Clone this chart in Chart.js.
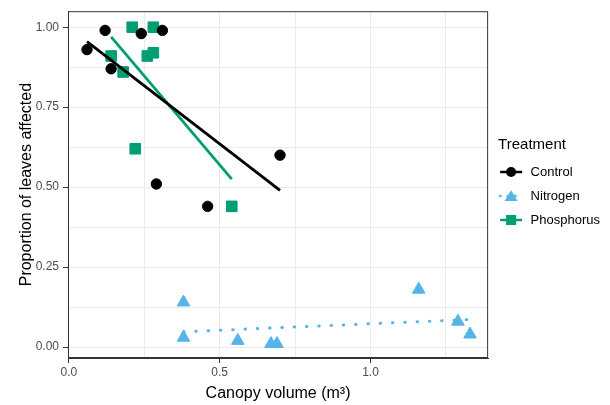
<!DOCTYPE html>
<html>
<head>
<meta charset="utf-8">
<script src="https://cdn.jsdelivr.net/npm/chart.js@4.4.0/dist/chart.umd.min.js"></script>
<style>
  body { margin: 0; background: #fff; }
</style>
</head>
<body>
<canvas id="plot" width="610" height="405"></canvas>
<script>
// observed points, per treatment
var controlX = [0.06, 0.12, 0.14, 0.24, 0.29, 0.31, 0.46, 0.70];
var controlY = [0.93, 0.99, 0.87, 0.98, 0.51, 0.99, 0.44, 0.60];
var nitrogenX = [0.38, 0.38, 0.56, 0.67, 0.69, 1.16, 1.29, 1.33];
var nitrogenY = [0.14, 0.03, 0.02, 0.01, 0.01, 0.18, 0.08, 0.04];
var phosphorusX = [0.14, 0.18, 0.21, 0.22, 0.26, 0.28, 0.28, 0.54];
var phosphorusY = [0.91, 0.86, 1.00, 0.62, 0.91, 1.00, 0.92, 0.44];

// fitted lines (end points)
var controlFitX = [0.06, 0.70];
var controlFitY = [0.955, 0.49];
var nitrogenFitX = [0.38, 1.32];
var nitrogenFitY = [0.048, 0.086];
var phosphorusFitX = [0.14, 0.54];
var phosphorusFitY = [0.97, 0.525];

var xTicks = [0, 0.25, 0.5, 0.75, 1.0, 1.25];
var yTicks = [0, 0.125, 0.25, 0.375, 0.5, 0.625, 0.75, 0.875, 1.0];

var treatments = ["Control", "Nitrogen", "Phosphorus"];
var colours = ["#000000", "#56B4E9", "#009E73"];

Chart.defaults.font.family = "Liberation Sans";
Chart.defaults.font.size = 13;
Chart.defaults.color = "#000";

function pairs(xs, ys) {
  return xs.map(function (x, i) { return {x: x, y: ys[i]}; });
}

function isMajor(v, step) {
  return Math.abs(v / step - Math.round(v / step)) < 1e-6;
}

// legend keys: line with the marker on top
function legendKey(colour, shape, dotted) {
  var c = document.createElement("canvas");
  c.width = 26; c.height = 16;
  var g = c.getContext("2d");
  g.strokeStyle = colour;
  g.fillStyle = colour;
  g.lineWidth = 2.5;
  if (dotted) { g.setLineDash([0.5, 7]); g.lineCap = "round"; }
  g.beginPath(); g.moveTo(2, 8); g.lineTo(24, 8); g.stroke();
  g.setLineDash([]);
  g.beginPath();
  if (shape == "circle") g.arc(13, 8, 5, 0, Math.PI * 2);
  if (shape == "rect") g.rect(8, 3, 10, 10);
  if (shape == "triangle") { g.moveTo(13, 2); g.lineTo(19.5, 13); g.lineTo(6.5, 13); g.closePath(); }
  g.fill();
  return c;
}
var keys = [
  legendKey(colours[0], "circle", false),
  legendKey(colours[1], "triangle", true),
  legendKey(colours[2], "rect", false)
];

var panelBox = {
  id: "panelBox",
  afterDraw: function (chart) {
    var a = chart.chartArea, g = chart.ctx;
    g.save();
    g.strokeStyle = "#333333";
    g.lineWidth = 1;
    g.strokeRect(a.left + 0.5, a.top + 0.5, a.right - a.left - 1, a.bottom - a.top - 1);
    g.restore();
  }
};

var ctx = document.getElementById("plot");

var plot = new Chart(ctx, {
  type: "scatter",
  data: {
    datasets: [
      {label: "Control", data: pairs(controlX, controlY), backgroundColor: colours[0], borderColor: colours[0],
       pointStyle: "circle", pointRadius: 5.2, order: 2},
      {label: "Nitrogen", data: pairs(nitrogenX, nitrogenY), backgroundColor: colours[1], borderColor: colours[1],
       pointStyle: "triangle", pointRadius: 7.3, order: 2},
      {label: "Phosphorus", data: pairs(phosphorusX, phosphorusY), backgroundColor: colours[2], borderColor: colours[2],
       pointStyle: "rect", pointRadius: 7.5, order: 2},
      {type: "line", label: "Control fit", data: pairs(controlFitX, controlFitY), borderColor: colours[0],
       borderWidth: 2.8, pointRadius: 0, order: 1},
      {type: "line", label: "Nitrogen fit", data: pairs(nitrogenFitX, nitrogenFitY), borderColor: colours[1],
       borderWidth: 3, borderDash: [0.5, 11.8], borderCapStyle: "round", pointRadius: 0, order: 1},
      {type: "line", label: "Phosphorus fit", data: pairs(phosphorusFitX, phosphorusFitY), borderColor: colours[2],
       borderWidth: 2.8, pointRadius: 0, order: 1}
    ]
  },
  options: {
    responsive: false,
    animation: false,
    layout: {padding: {left: 13, top: 10, right: 0, bottom: 0}},
    plugins: {
      tooltip: {enabled: false},
      legend: {
        position: "right",
        align: "start",
        maxWidth: 130,
        title: {display: true, text: "Treatment", position: "start", color: "#000",
                font: {family: "Liberation Sans", size: 15}, padding: {top: 127.5, bottom: 10}},
        labels: {
          usePointStyle: true,
          pointStyleWidth: 26,
          padding: 0,
          color: "#000",
          font: {family: "Liberation Sans", size: 13, lineHeight: "24px"},
          generateLabels: function () {
            return treatments.map(function (t, i) {
              return {text: [t], pointStyle: keys[i], fillStyle: colours[i], strokeStyle: colours[i],
                      lineWidth: 0, hidden: false, datasetIndex: i, fontColor: "#000"};
            });
          }
        }
      }
    },
    scales: {
      x: {
        type: "linear",
        min: -0.003,
        max: 1.39,
        afterBuildTicks: function (s) { s.ticks = xTicks.map(function (v) { return {value: v}; }); },
        afterFit: function (s) { s.height = 47; },
        ticks: {
          padding: 2,
          color: "#4d4d4d",
          font: {family: "Liberation Sans", size: 12},
          maxRotation: 0,
          callback: function (v) { return isMajor(v, 0.5) ? v.toFixed(1) : ""; }
        },
        grid: {
          color: "#ebebeb",
          lineWidth: 1,
          tickLength: 5,
          tickColor: function (c) { return c.tick && isMajor(c.tick.value, 0.5) ? "#333333" : "rgba(0,0,0,0)"; }
        },
        border: {color: "#333333"},
        title: {display: true, text: "Canopy volume (m³)", color: "#000",
                font: {family: "Liberation Sans", size: 16}, padding: {top: 4, bottom: 2}}
      },
      y: {
        type: "linear",
        min: -0.034,
        max: 1.05,
        afterBuildTicks: function (s) { s.ticks = yTicks.map(function (v) { return {value: v}; }); },
        afterFit: function (s) { s.width = 55; },
        ticks: {
          padding: 4,
          color: "#4d4d4d",
          font: {family: "Liberation Sans", size: 12},
          callback: function (v) { return isMajor(v, 0.25) ? v.toFixed(2) : ""; }
        },
        grid: {
          color: "#ebebeb",
          lineWidth: 1,
          tickLength: 5,
          tickColor: function (c) { return c.tick && isMajor(c.tick.value, 0.25) ? "#333333" : "rgba(0,0,0,0)"; }
        },
        border: {color: "#333333"},
        title: {display: true, text: "Proportion of leaves affected", color: "#000",
                font: {family: "Liberation Sans", size: 16}, padding: {top: 4, bottom: 4}}
      },
      // empty spacer between the panel and the legend
      gap: {
        type: "linear",
        position: "right",
        display: true,
        afterFit: function (s) { s.width = 10; },
        ticks: {display: false},
        grid: {display: false},
        border: {display: false}
      }
    }
  },
  plugins: [panelBox]
});
</script>
</body>
</html>
